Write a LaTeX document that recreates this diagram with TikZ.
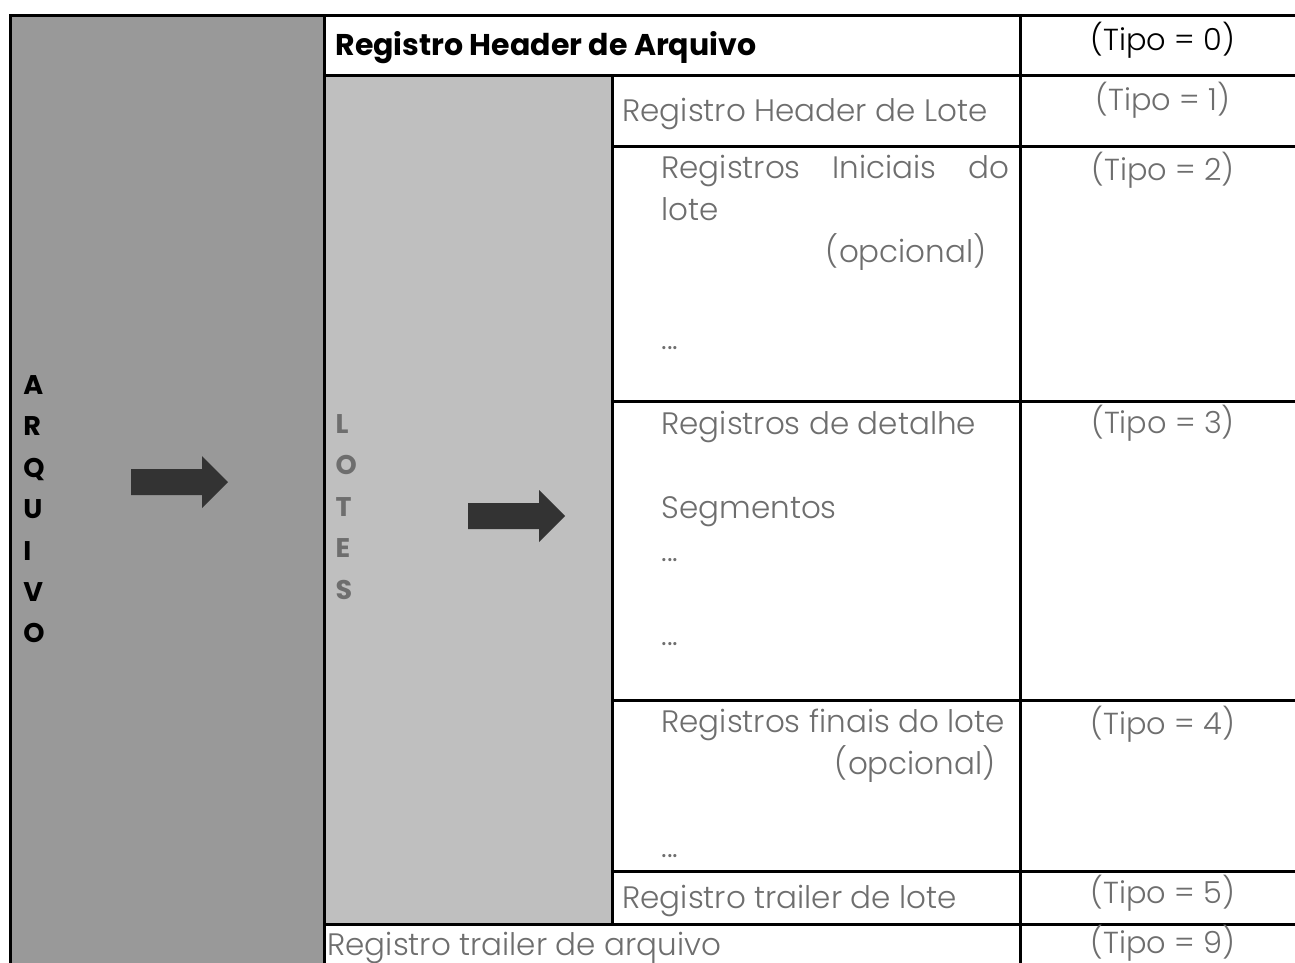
\documentclass[tikz,border=0pt]{standalone}
\usepackage{fontspec}
\setmainfont{Poppins}
\newfontfamily\finafont{Poppins Light}
\usetikzlibrary{positioning}

\definecolor{arqgray}{HTML}{999999}
\definecolor{lotegray}{HTML}{BFBFBF}
\definecolor{txtgray}{HTML}{6E6E6E}
\definecolor{setagray}{HTML}{333333}

\begin{document}
\begin{tikzpicture}[x=0.5pt, y=-0.5pt, line width=1.5pt,
    rotulo/.style={anchor=base west, inner sep=0pt, text=txtgray,
      font=\finafont\fontsize{15.5}{19}\selectfont},
    tipo/.style={anchor=center, inner sep=0pt, text=txtgray,
      font=\finafont\fontsize{15.2}{19}\selectfont},
    letras/.style={anchor=north west, inner sep=0pt, align=left,
      font=\bfseries\fontsize{13.5}{20.7}\selectfont},
    seta/.style={fill=setagray}]
  \useasboundingbox (0,0) rectangle (1295,963);

  % colunas cinzas
  \fill[arqgray] (10,16) rectangle (324,963);
  \fill[lotegray] (324,76) rectangle (612,924);

  % grade
  \draw (10,963) -- (10,16) -- (1295,16);
  \draw (324,16) -- (324,963);
  \draw (612,76) -- (612,924);
  \draw (1020,16) -- (1020,963);
  \draw (324,76) -- (1295,76);
  \draw (612,146) -- (1295,146);
  \draw (612,401) -- (1295,401);
  \draw (612,700) -- (1295,700);
  \draw (612,871) -- (1295,871);
  \draw (324,924) -- (1295,924);

  % letras verticais
  \node[letras] (arquivo) at (22,374) {A\\R\\Q\\U\\I\\V\\O};
  \node[letras, text=txtgray] (lotes) at (334,413) {L\\O\\T\\E\\S};

  % setas
  \fill[seta] (131,469) -- ++(71,0) -- ++(0,-13) -- ++(26,26)
    -- ++(-26,26) -- ++(0,-13) -- ++(-71,0) -- cycle;
  \fill[seta] (468,503) -- ++(71,0) -- ++(0,-13) -- ++(26,26)
    -- ++(-26,26) -- ++(0,-13) -- ++(-71,0) -- cycle;

  % registros
  \node[anchor=base west, inner sep=0pt, font=\bfseries\fontsize{15}{18}\selectfont]
    (hArq) at (334,56) {Registro Header de Arquivo};
  \node[rotulo] (hLote) at (621,122) {Registro Header de Lote};
  \node[rotulo, text width=174pt] (ini) at (660,178) {Registros\hfill Iniciais\hfill do};
  \node[rotulo] (iniLote) at (660,220) {lote};
  \node[rotulo, anchor=base east] (iniOpc) at (988,262) {(opcional)};
  \node[rotulo] (iniPts) at (660,349) {...};
  \node[rotulo] (det) at (660,434) {Registros de detalhe};
  \node[rotulo] (seg) at (660,518) {Segmentos};
  \node[rotulo] (segPts) at (660,561) {...};
  \node[rotulo] (detPts) at (660,645) {...};
  \node[rotulo] (fin) at (660,732) {Registros finais do lote};
  \node[rotulo, anchor=base east] (finOpc) at (997,774) {(opcional)};
  \node[rotulo] (finPts) at (660,857) {...};
  \node[rotulo] (tLote) at (621,908) {Registro trailer de lote};
  \node[rotulo] (tArq) at (326,955) {Registro trailer de arquivo};

  % tipos
  \node[tipo, text=black] (t0) at (1163,40) {(Tipo = 0)};
  \node[tipo] (t1) at (1163,100) {(Tipo = 1)};
  \node[tipo] (t2) at (1163,170) {(Tipo = 2)};
  \node[tipo] (t3) at (1163,423) {(Tipo = 3)};
  \node[tipo] (t4) at (1163,724) {(Tipo = 4)};
  \node[tipo] (t5) at (1163,893) {(Tipo = 5)};
  \node[tipo] (t9) at (1163,943) {(Tipo = 9)};
\end{tikzpicture}
\end{document}
